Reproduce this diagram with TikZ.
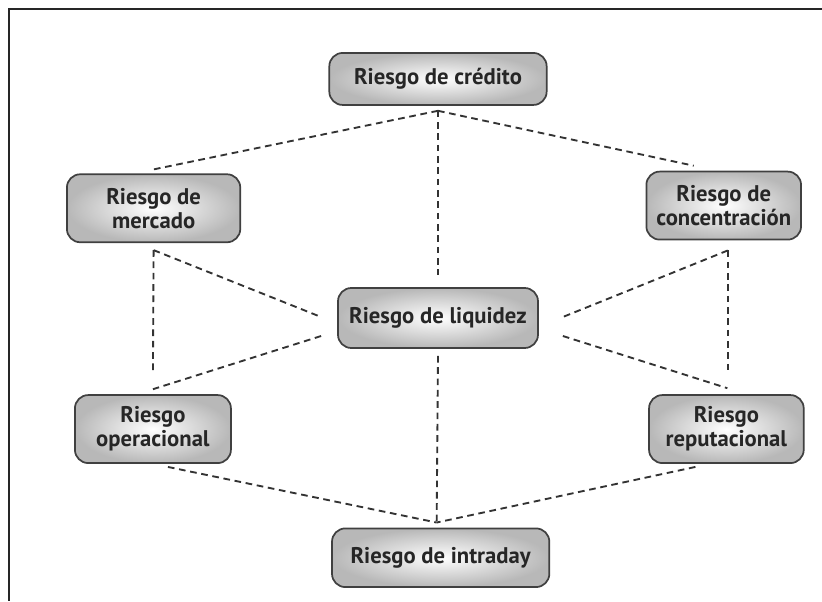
\documentclass[tikz,border=0pt]{standalone}
\usepackage{fontspec}
\setmainfont{PT Sans}
\usetikzlibrary{positioning,calc}

\tikzset{
  riesgo/.style={draw=black!75, line width=1.3pt, rounded corners=10pt,
    inner color=white, outer color=black!28, text=black!85,
    font=\bfseries\fontsize{17}{18}\selectfont, align=center, inner sep=2pt},
  uno/.style={riesgo, minimum height=44pt},
  dos/.style={riesgo, minimum height=51pt},
  link/.style={draw=black!80, line width=1.4pt, dash pattern=on 5pt off 3.5pt},
  marco/.style={draw=black!85, line width=1.5pt}
}

\begin{document}
\begin{tikzpicture}[x=0.75pt, y=0.75pt]
    \useasboundingbox (-438,318) rectangle (384,-283);
    \draw [marco] (384,309) -- (-429,309) -- (-429,-283);
    %% Nodes
    \node [uno, minimum width=150pt, minimum height=45pt] (liq) {Riesgo de liquidez};
    \node [uno, minimum width=163pt, minimum height=39pt, above=136pt of liq] (cred) {Riesgo de crédito};
    \node [uno, minimum width=163pt, below=134pt of liq, xshift=2pt] (intra) {Riesgo de intraday};
    \node [dos, minimum width=130pt, above left=33pt and 72pt of liq] (merc) {Riesgo de\\mercado};
    \node [dos, minimum width=116pt, above right=35pt and 80pt of liq] (conc) {Riesgo de\\concentración};
    \node [dos, minimum width=117pt, below left=34pt and 79pt of liq] (oper) {Riesgo\\operacional};
    \node [dos, minimum width=116pt, below right=34pt and 82pt of liq] (rep) {Riesgo\\reputacional};
    %% Ends of the dashed links
    \coordinate (credP) at ($(cred.south)+(0,-5)$);
    \coordinate (mercN) at ($(merc.north)+(0,4)$);
    \coordinate (concN) at ($(conc.north)+(-30,5)$);
    \coordinate (liqN) at ($(liq.north)+(0,12)$);
    \coordinate (mercS) at ($(merc.south)+(0,-7)$);
    \coordinate (operV) at ($(oper.north)+(0,21)$);
    \coordinate (operN) at ($(oper.north)+(0,5)$);
    \coordinate (liqWa) at ($(liq.west)+(-16,1)$);
    \coordinate (liqWb) at ($(liq.west)+(-16,-18)$);
    \coordinate (concS) at ($(conc.south)+(4,-10)$);
    \coordinate (repV) at ($(rep.north)+(1,21)$);
    \coordinate (repN) at ($(rep.north)+(1,6)$);
    \coordinate (liqEa) at ($(liq.east)+(24,1)$);
    \coordinate (liqEb) at ($(liq.east)+(24,-18)$);
    \coordinate (liqS) at ($(liq.south)+(0,-7)$);
    \coordinate (operS) at ($(oper.south)+(15,-3)$);
    \coordinate (repS) at ($(rep.south)+(-31,-3)$);
    \coordinate (intraN) at ($(intra.north)+(-4,5)$);
    %% Links
    \path [link] (credP) -- (mercN);
    \path [link] (credP) -- (concN);
    \path [link] (credP) -- (liqN);
    \path [link] (mercS) -- (operV);
    \path [link] (mercS) -- (liqWa);
    \path [link] (liqWb) -- (operN);
    \path [link] (concS) -- (concS |- repV);
    \path [link] (concS) -- (liqEa);
    \path [link] (liqEb) -- (repN);
    \path [link] (liqS) -- (intraN);
    \path [link] (operS) -- (intraN);
    \path [link] (repS) -- (intraN);
\end{tikzpicture}
\end{document}
